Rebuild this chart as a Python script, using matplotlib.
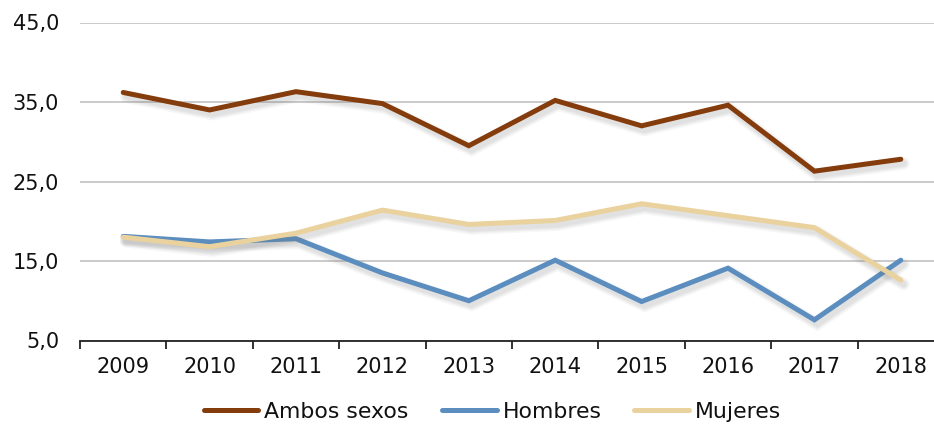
import matplotlib
matplotlib.use("Agg")
import matplotlib.pyplot as plt
import matplotlib.patheffects as pe
from matplotlib.lines import Line2D
from matplotlib.ticker import FuncFormatter, FixedLocator

years = ["2009", "2010", "2011", "2012", "2013", "2014", "2015", "2016", "2017", "2018"]
ambos_sexos = [36.2, 34.0, 36.3, 34.8, 29.5, 35.2, 32.0, 34.6, 26.3, 27.8]
hombres = [18.1, 17.4, 17.8, 13.5, 10.0, 15.1, 9.9, 14.1, 7.6, 15.1]
mujeres = [18.0, 16.8, 18.5, 21.4, 19.6, 20.1, 22.2, 20.7, 19.2, 12.6]

series = [
    ("Ambos sexos", ambos_sexos, "#843C0C"),
    ("Hombres", hombres, "#5B8DBF"),
    ("Mujeres", mujeres, "#EAD29E"),
]

plt.rcParams["font.family"] = ["DejaVu Sans"]
TICK_FS = 15
LEG_FS = 15.8

fig = plt.figure(figsize=(9.34, 4.24), dpi=100)
ax = fig.add_axes([80 / 934, (424 - 340.5) / 424, 864 / 934, 318 / 424])

x = list(range(len(years)))
# soft drop shadow built from a few widening translucent strokes
shadow = [pe.SimpleLineShadow(offset=(2, -3), shadow_color="#7a7a7a", alpha=0.06, linewidth=w)
          for w in (9, 7, 5.5, 4)] + [pe.Normal()]
handles = []
for name, vals, color in series:
    ax.plot(x, vals, color=color, lw=3.6, solid_capstyle="round",
            solid_joinstyle="miter", path_effects=shadow)
    handles.append(Line2D([], [], color=color, lw=3.6, solid_capstyle="round", label=name))

ax.set_xlim(-0.5, len(years) - 0.5)
ax.set_ylim(5, 45)
ax.set_yticks([5, 15, 25, 35, 45])
ax.yaxis.set_major_formatter(FuncFormatter(lambda v, p: f"{v:.1f}".replace(".", ",")))
ax.grid(axis="y", color="#C6C6C6", lw=1.3)
ax.set_axisbelow(True)

ax.set_xticks(x)
ax.set_xticklabels(years)
ax.xaxis.set_minor_locator(FixedLocator([i - 0.5 for i in range(len(years) + 1)]))
ax.tick_params(axis="x", which="major", length=0, pad=12, labelsize=TICK_FS, colors="#111111")
ax.tick_params(axis="x", which="minor", length=6, width=1.3, color="#222222")
ax.tick_params(axis="y", length=0, pad=15, labelsize=TICK_FS, colors="#111111")

for s in ["left", "right", "top"]:
    ax.spines[s].set_visible(False)
ax.spines["bottom"].set_color("#222222")
ax.spines["bottom"].set_linewidth(1.3)

fig.legend(handles=handles, loc="center", bbox_to_anchor=(492.5 / 934, 1 - 412 / 424),
           ncol=3, frameon=False, fontsize=LEG_FS, handlelength=2.5, handletextpad=0.27,
           columnspacing=1.5, labelcolor="#111111")

fig.savefig("out.png", dpi=100)
